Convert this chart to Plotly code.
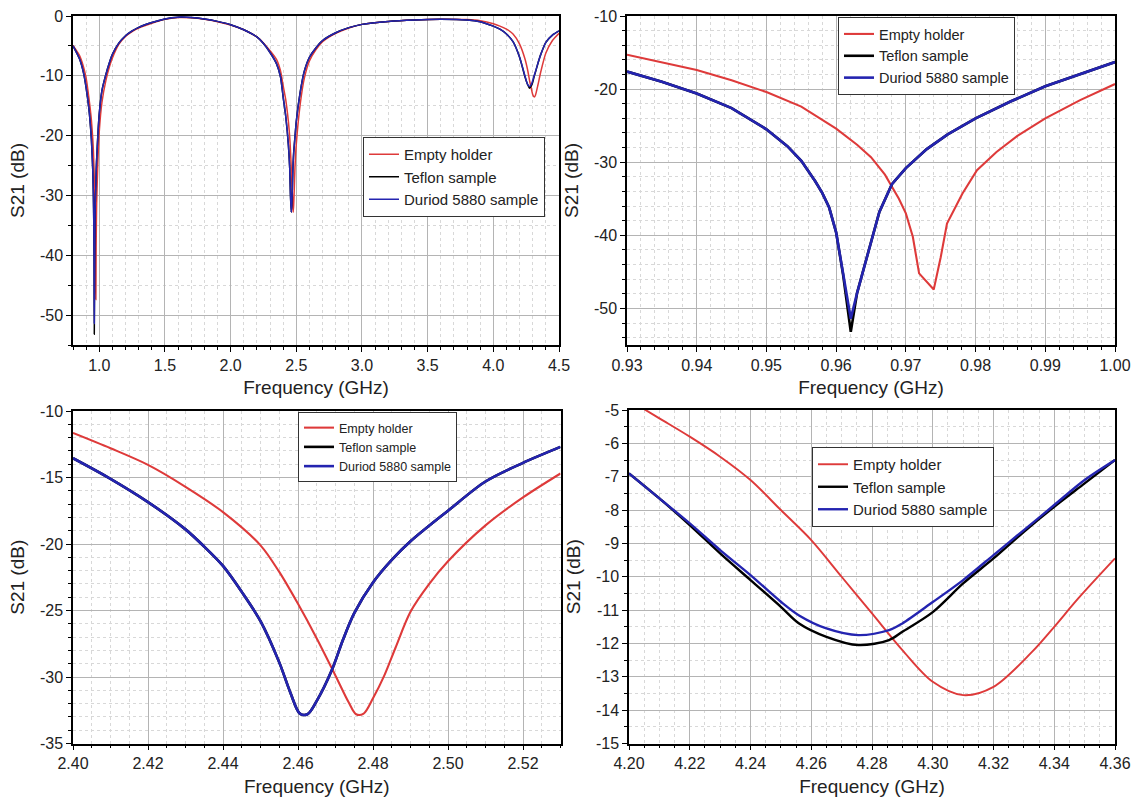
import plotly.graph_objects as go

# ---------------- data ----------------
# Panel 1: full sweep 0.8 - 4.5 GHz
p1_freq = [0.80, 0.85, 0.88, 0.90, 0.92, 0.93, 0.94, 0.95, 0.955, 0.958, 0.960, 0.961, 0.9621,
           0.964, 0.966, 0.968, 0.970, 0.972, 0.974, 0.976, 0.978, 0.980, 0.990, 1.00, 1.02, 1.05,
           1.08, 1.10, 1.15, 1.20, 1.25, 1.30, 1.40, 1.50, 1.60, 1.70, 1.80, 1.90, 2.00, 2.10, 2.20,
           2.25, 2.30, 2.35, 2.38,
           2.40, 2.42, 2.44, 2.45, 2.455, 2.4615, 2.465, 2.47, 2.4735, 2.4765, 2.48, 2.485, 2.49,
           2.50, 2.53, 2.56, 2.60, 2.65, 2.70, 2.80, 2.90, 3.00, 3.20, 3.40, 3.60, 3.80, 3.90, 4.00,
           4.05, 4.10, 4.15, 4.20, 4.24, 4.26, 4.276, 4.29, 4.30, 4.312, 4.32, 4.34, 4.36, 4.40,
           4.45, 4.50]
p1_empty = [-4.9, -6.6, -8.5, -10.4, -13.5, -15.3, -17.4, -20.4, -22.4, -24.2, -25.4, -26.2, -27.2,
            -28.7, -30.8, -34.0, -37.2, -45.0, -47.4, -38.8, -34.6, -31.4, -24.0, -19.3, -14.5, -10.8,
            -8.3, -7.0, -4.7, -3.4, -2.6, -2.0, -1.2, -0.55, -0.25, -0.3, -0.55, -0.95, -1.5, -2.3, -3.5,
            -4.5, -5.8, -7.3, -9.2,
            -11.65, -14.05, -17.7, -20.3, -22.2, -25.3, -27.2, -29.9, -31.9, -32.8, -31.6, -28.6, -25.3,
            -21.4, -14.7, -10.5, -7.5, -5.6, -4.3, -2.9, -2.0, -1.4, -0.9, -0.65, -0.55, -0.6, -0.8, -1.3,
            -1.7, -2.2, -3.0, -4.7, -7.1, -8.9, -10.8, -12.2, -13.15, -13.55, -13.3, -11.5, -9.45, -6.2,
            -4.1, -2.9]
p1_teflon = [-5.0, -7.2, -9.5, -12.0, -15.3, -17.6, -20.6, -25.5, -29.8, -34.2, -39.6, -45.4, -53.2,
             -44.4, -37.4, -33.0, -30.8, -29.5, -28.2, -26.2, -25.0, -24.0, -19.6, -16.3, -12.5, -9.8,
             -7.6, -6.4, -4.5, -3.3, -2.5, -1.9, -1.1, -0.5, -0.2, -0.25, -0.5, -0.9, -1.45, -2.3, -3.5,
             -4.6, -6.1, -8.0, -10.2,
             -13.55, -16.85, -21.65, -25.5, -29.6, -32.8, -31.8, -28.8, -26.0, -24.3, -22.9, -21.5, -20.2,
             -17.6, -12.7, -9.3, -6.9, -5.3, -4.1, -2.8, -1.95, -1.4, -0.9, -0.65, -0.55, -0.65, -0.95, -1.7,
             -2.2, -3.0, -4.3, -6.9, -10.1, -11.4, -12.09, -11.65, -11.06, -10.0, -9.45, -7.9, -6.5, -4.4,
             -3.2, -2.5]
p1_duriod = [-5.0, -7.2, -9.5, -12.0, -15.3, -17.6, -20.6, -25.5, -29.8, -34.2, -39.6, -45.4, -51.4,
             -44.4, -37.4, -33.0, -30.8, -29.5, -28.2, -26.2, -25.0, -24.0, -19.6, -16.3, -12.5, -9.8,
             -7.6, -6.4, -4.5, -3.3, -2.5, -1.9, -1.1, -0.5, -0.2, -0.25, -0.5, -0.9, -1.45, -2.3, -3.5,
             -4.6, -6.1, -8.0, -10.2,
             -13.55, -16.85, -21.65, -25.5, -29.6, -32.8, -31.8, -28.8, -26.0, -24.3, -22.9, -21.5, -20.2,
             -17.6, -12.7, -9.3, -6.9, -5.3, -4.1, -2.8, -1.95, -1.4, -0.9, -0.65, -0.55, -0.65, -0.95, -1.7,
             -2.2, -3.0, -4.3, -6.9, -9.95, -11.4, -11.78, -11.4, -10.76, -9.9, -9.35, -7.85, -6.5, -4.4,
             -3.2, -2.5]

# Panel 2: zoom 0.93 - 1.00 GHz
p2_freq_empty = [0.930, 0.935, 0.940, 0.945, 0.950, 0.955, 0.960, 0.963, 0.965, 0.967, 0.969, 0.970,
                 0.971, 0.9719, 0.974, 0.975, 0.9759, 0.9781, 0.9802, 0.983, 0.986, 0.990, 0.995, 1.000]
p2_empty = [-15.3, -16.3, -17.4, -18.8, -20.4, -22.4, -25.4, -27.6, -29.3, -31.7, -35.0, -37.0,
            -40.2, -45.2, -47.4, -43.0, -38.4, -34.3, -31.1, -28.6, -26.4, -24.0, -21.5, -19.3]
p2_freq_samples = [0.930, 0.935, 0.940, 0.945, 0.950, 0.953, 0.955, 0.957, 0.958, 0.959, 0.960, 0.961,
                   0.9621, 0.963, 0.964, 0.965, 0.9662, 0.968, 0.970, 0.973, 0.976, 0.980, 0.985,
                   0.990, 0.995, 1.000]
p2_teflon = [-17.6, -19.0, -20.6, -22.6, -25.5, -27.8, -29.8, -32.6, -34.2, -36.2, -39.6, -45.4,
             -53.2, -47.9, -44.4, -40.9, -36.8, -33.0, -30.8, -28.2, -26.2, -24.0, -21.7, -19.6, -17.9, -16.3]
p2_duriod = [-17.6, -19.0, -20.6, -22.6, -25.5, -27.8, -29.8, -32.6, -34.2, -36.2, -39.6, -45.4,
             -51.4, -47.9, -44.4, -40.9, -36.8, -33.0, -30.8, -28.2, -26.2, -24.0, -21.7, -19.6, -17.9, -16.3]

# Panel 3: zoom 2.40 - 2.53 GHz
p3_freq_empty = [2.40, 2.41, 2.42, 2.43, 2.44, 2.45, 2.455, 2.46, 2.465, 2.47, 2.4735, 2.4755, 2.4775,
                 2.48, 2.483, 2.486, 2.49, 2.495, 2.50, 2.51, 2.52, 2.53]
p3_empty = [-11.65, -12.8, -14.05, -15.7, -17.6, -20.1, -22.1, -24.5, -27.1, -29.9, -31.9, -32.8, -32.75,
            -31.6, -29.9, -27.8, -25.1, -23.0, -21.3, -18.6, -16.5, -14.7]
p3_freq_samples = [2.40, 2.41, 2.42, 2.43, 2.435, 2.44, 2.445, 2.45, 2.455, 2.458, 2.4605, 2.4625, 2.465,
                   2.469, 2.472, 2.475, 2.48, 2.485, 2.49, 2.50, 2.51, 2.52, 2.53]
p3_teflon = [-13.55, -15.1, -16.85, -18.9, -20.2, -21.65, -23.6, -25.8, -28.9, -31.2, -32.75, -32.8, -31.8,
             -29.5, -27.2, -25.2, -22.9, -21.2, -19.8, -17.5, -15.3, -13.9, -12.7]
p3_duriod = [-13.55, -15.1, -16.85, -18.9, -20.2, -21.65, -23.6, -25.8, -28.9, -31.2, -32.75, -32.8, -31.8,
             -29.5, -27.2, -25.2, -22.9, -21.2, -19.8, -17.5, -15.3, -13.9, -12.7]

# Panel 4: zoom 4.20 - 4.36 GHz
p4_freq_empty = [4.20, 4.21, 4.22, 4.23, 4.24, 4.25, 4.26, 4.27, 4.28, 4.29, 4.30, 4.31, 4.32, 4.3326,
                 4.34, 4.3479, 4.36]
p4_empty = [-4.7, -5.25, -5.8, -6.4, -7.1, -8.0, -8.9, -10.0, -11.1, -12.2, -13.15, -13.55, -13.3, -12.26,
            -11.5, -10.65, -9.45]
p4_freq_samples = [4.20, 4.21, 4.22, 4.23, 4.24, 4.25, 4.256, 4.265, 4.2755, 4.2856, 4.29, 4.30, 4.31,
                   4.32, 4.33, 4.34, 4.35, 4.36]
p4_teflon = [-6.9, -7.65, -8.45, -9.3, -10.1, -10.9, -11.4, -11.8, -12.05, -11.9, -11.65, -11.06, -10.2,
             -9.45, -8.65, -7.9, -7.2, -6.5]
p4_duriod = [-6.9, -7.65, -8.4, -9.2, -9.95, -10.75, -11.16, -11.55, -11.75, -11.6, -11.4, -10.76, -10.1,
             -9.35, -8.6, -7.85, -7.1, -6.5]

colors = {"Empty holder": "#de3a3a", "Teflon sample": "#000000", "Duriod 5880 sample": "#2424b0"}

p1_yticks = [0, -10, -20, -30, -40, -50]
p2_yticks = [-10, -20, -30, -40, -50]
p3_yticks = [-10, -15, -20, -25, -30, -35]
p4_yticks = [-5, -6, -7, -8, -9, -10, -11, -12, -13, -14, -15]

# ---------------- figure ----------------
FONT = "Liberation Sans, Arial, sans-serif"
W, H = 1134, 800

fig = go.Figure()

panels = [
    # (xaxis, yaxis, legend, traces, width, shape)
    ("x", "y", "legend", [(p1_freq, p1_empty, "Empty holder"), (p1_freq, p1_teflon, "Teflon sample"),
                          (p1_freq, p1_duriod, "Duriod 5880 sample")], 1.5, "spline"),
    ("x2", "y2", "legend2", [(p2_freq_empty, p2_empty, "Empty holder"), (p2_freq_samples, p2_teflon, "Teflon sample"),
                             (p2_freq_samples, p2_duriod, "Duriod 5880 sample")], 2.6, "linear"),
    ("x3", "y3", "legend3", [(p3_freq_empty, p3_empty, "Empty holder"), (p3_freq_samples, p3_teflon, "Teflon sample"),
                             (p3_freq_samples, p3_duriod, "Duriod 5880 sample")], 2.6, "spline"),
    ("x4", "y4", "legend4", [(p4_freq_empty, p4_empty, "Empty holder"), (p4_freq_samples, p4_teflon, "Teflon sample"),
                             (p4_freq_samples, p4_duriod, "Duriod 5880 sample")], 2.4, "spline"),
]

for xa, ya, lg, traces, lw, shape in panels:
    for xs, ys, name in traces:
        w = lw
        if name == "Empty holder" and xa != "x":
            w = lw * 0.8
        line = dict(color=colors[name], width=w, shape=shape)
        if shape == "spline":
            line["smoothing"] = 0.6 if xa == "x" else 0.9
        fig.add_trace(go.Scatter(x=xs, y=ys, name=name, mode="lines", line=line,
                                 xaxis=xa, yaxis=ya, legend=lg))


def px_x(p):
    return p / W


def px_y(p):
    return 1 - p / H


axis_common = dict(showline=True, linecolor="black", linewidth=1.5, mirror=True,
                   ticks="outside", ticklen=5, tickwidth=1.2, tickcolor="black",
                   showgrid=True, gridcolor="#b4b4b4", gridwidth=1, zeroline=False,
                   tickfont=dict(family=FONT, size=16, color="#222"),
                   automargin=False)


def minor(dt):
    return dict(dtick=dt, ticks="outside", ticklen=3, tickcolor="black",
                showgrid=True, gridcolor="#d8d8d8", griddash="dot", gridwidth=1)


def xtitle():
    return dict(text="Frequency (GHz)", font=dict(family=FONT, size=19, color="#222"), standoff=8)


def ytitle():
    return dict(text="S21 (dB)", font=dict(family=FONT, size=19, color="#222"), standoff=10)


layout = dict(
    width=W, height=H, margin=dict(l=0, r=0, t=0, b=0),
    paper_bgcolor="white", plot_bgcolor="white",
    font=dict(family=FONT),
)

# panel 1
layout["xaxis"] = dict(axis_common, domain=[px_x(73), px_x(559)], range=[0.8, 4.5], anchor="y",
                       tick0=0, dtick=0.5, tickformat=".1f", minor=dict(minor(0.1), tick0=0), title=xtitle())
layout["yaxis"] = dict(axis_common, domain=[px_y(345), px_y(16)], range=[-55, 0], anchor="x",
                       tickmode="array", tickvals=p1_yticks, ticktext=[str(v) for v in p1_yticks],
                       minor=dict(minor(5), tick0=0), title=ytitle())
# panel 2
layout["xaxis2"] = dict(axis_common, domain=[px_x(627), px_x(1115)], range=[0.93, 1.00], anchor="y2",
                        tick0=0.93, dtick=0.01, tickformat=".2f", minor=dict(minor(0.002), tick0=0.93), title=xtitle())
layout["yaxis2"] = dict(axis_common, domain=[px_y(345), px_y(16)], range=[-55, -10], anchor="x2",
                        tickmode="array", tickvals=p2_yticks, ticktext=[str(v) for v in p2_yticks],
                        minor=dict(minor(2), tick0=0), title=ytitle())
# panel 3
layout["xaxis3"] = dict(axis_common, domain=[px_x(73), px_x(560.5)], range=[2.40, 2.53], anchor="y3",
                        tick0=2.40, dtick=0.02, tickformat=".2f", minor=dict(minor(0.005), tick0=2.40), title=xtitle())
layout["yaxis3"] = dict(axis_common, domain=[px_y(743.5), px_y(411)], range=[-35, -10], anchor="x3",
                        tickmode="array", tickvals=p3_yticks, ticktext=[str(v) for v in p3_yticks],
                        minor=dict(minor(1), tick0=0), title=ytitle())
# panel 4
layout["xaxis4"] = dict(axis_common, domain=[px_x(629), px_x(1115)], range=[4.20, 4.36], anchor="y4",
                        tick0=4.20, dtick=0.02, tickformat=".2f", minor=dict(minor(0.005), tick0=4.20), title=xtitle())
layout["yaxis4"] = dict(axis_common, domain=[px_y(743.5), px_y(410)], range=[-15, -5], anchor="x4",
                        tickmode="array", tickvals=p4_yticks, ticktext=[str(v) for v in p4_yticks],
                        minor=dict(minor(0.5), tick0=0), title=ytitle())

leg_common = dict(bgcolor="white", bordercolor="#333", borderwidth=1, xanchor="left", yanchor="top",
                  tracegroupgap=0, itemwidth=30)
layout["legend"] = dict(leg_common, x=px_x(363), y=px_y(137), font=dict(family=FONT, size=15, color="#222"))
layout["legend2"] = dict(leg_common, x=px_x(838), y=px_y(17), font=dict(family=FONT, size=14.5, color="#222"))
layout["legend3"] = dict(leg_common, x=px_x(298), y=px_y(412), font=dict(family=FONT, size=12.5, color="#222"))
layout["legend4"] = dict(leg_common, x=px_x(812), y=px_y(447), font=dict(family=FONT, size=15, color="#222"))

fig.update_layout(**layout)
fig.write_html("out.html", config={"displayModeBar": False},
               post_script="document.body.style.margin='0px';document.body.style.overflow='hidden';")
